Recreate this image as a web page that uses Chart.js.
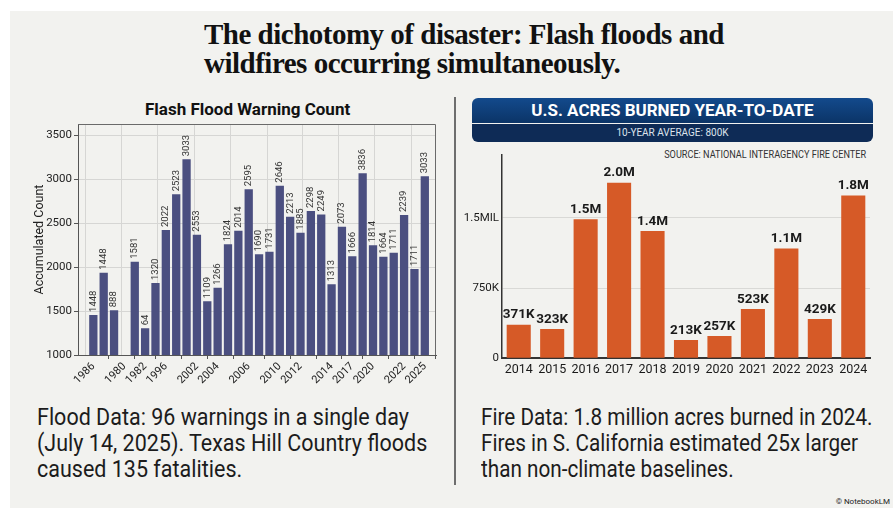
<!DOCTYPE html>
<html>
<head>
<meta charset="utf-8">
<script src="https://cdn.jsdelivr.net/npm/chart.js@4.4.1/dist/chart.umd.min.js"></script>
<style>
  html, body { margin:0; padding:0; background:#fff; }
  body { width:893px; height:508px; position:relative; overflow:hidden; }
  #panel { position:absolute; left:10px; top:11px; right:0; bottom:0; background:#f2f2ef; }
  .abs { position:absolute; }
  #title { left:204px; top:20px; font-family:"Liberation Serif", serif; font-weight:bold; font-size:29px; line-height:29px; color:#111; letter-spacing:-0.5px; white-space:nowrap; }
  #floodTitle { left:145px; width:201px; top:99px; font-family:Roboto, sans-serif; font-weight:bold; font-size:17px; line-height:20px; color:#111; text-align:center; white-space:nowrap; }
  #sep { left:454px; top:97px; width:2px; height:388px; background:#6e6e6e; }
  .note { font-family:Roboto, sans-serif; font-size:23px; line-height:26px; color:#1c1c1c; white-space:nowrap; transform-origin:0 0; }
  #floodNote { left:37px; top:405px; transform:scaleX(0.935); }
  #fireNote { left:481px; top:405px; transform:scaleX(0.9); }
  #ban1 { left:472px; top:98px; width:401px; height:25px; border-radius:6px 6px 0 0; background:linear-gradient(#134a8c, #0b3467); color:#fff; font-family:Roboto, sans-serif; font-weight:bold; font-size:17px; line-height:25px; text-align:center; }
  #ban2 { left:472px; top:124px; width:401px; height:18px; border-radius:0 0 6px 6px; background:#0e2b56; color:#dde3ec; font-family:Roboto, sans-serif; font-size:10px; line-height:18px; text-align:center; }
  #source { right:27px; top:148px; font-family:Roboto, sans-serif; font-size:10.5px; color:#333; white-space:nowrap; transform-origin:100% 0; transform:scaleX(0.87); }
  #copy { right:3px; top:497px; font-family:Roboto, sans-serif; font-size:8px; color:#222; }
  canvas { position:absolute; }
  #floodChart { left:30px; top:95px; }
  #fireChart { left:462px; top:145px; }
</style>
</head>
<body>
<div id="panel"></div>
<div id="title" class="abs">The dichotomy of disaster: Flash floods and<br>wildfires occurring simultaneously.</div>
<div id="floodTitle" class="abs">Flash Flood Warning Count</div>
<div id="sep" class="abs"></div>
<div id="floodNote" class="abs note">Flood Data: 96 warnings in a single day<br>(July 14, 2025). Texas Hill Country floods<br>caused 135 fatalities.</div>
<div id="fireNote" class="abs note">Fire Data: 1.8 million acres burned in 2024.<br>Fires in S. California estimated 25x larger<br>than non-climate baselines.</div>
<div id="ban1" class="abs">U.S. ACRES BURNED YEAR-TO-DATE</div>
<div id="ban2" class="abs">10-YEAR AVERAGE: 800K</div>
<div id="source" class="abs">SOURCE: NATIONAL INTERAGENCY FIRE CENTER</div>
<div id="copy" class="abs">&copy; NotebookLM</div>
<canvas id="floodChart" width="429" height="300"></canvas>
<canvas id="fireChart" width="431" height="240"></canvas>

<script>
// flash flood warnings, one slot per bar (slot 3 is empty in the picture)
var floodValues = [1455, 1935, 1508, null, 2060, 1303, 1818, 2420, 2826, 3224, 2367, 1610, 1765, 2258, 2413, 2883,
                   2144, 2174, 2924, 2572, 2390, 2636, 2598, 1803, 2458, 2121, 3064, 2246, 2117, 2163, 2591, 1977, 3030];
var floodBarText = ['1448','1448','888','','1581','64','1320','2022','2523','3033','2553','1109','1266','1824','2014','2595',
                    '1690','1731','2646','2213','1885','2298','2249','1313','2073','1666','3836','1814','1664','1711','2239','1711','3033'];
var floodTickSlots = [0, 3, 5, 7, 10, 12, 15, 18, 20, 23, 25, 27, 30, 32];
var floodTickYears = ['1986','1980','1982','1996','2002','2004','2006','2010','2012','2014','2017','2020','2022','2025'];
var floodYTicks = [1000, 1500, 2000, 2500, 3000, 3500];
var floodGridSlots = [-0.87, 3.06, 7.0, 11.0, 14.95, 18.9, 22.6, 26.6, 30.6];

// acres burned year-to-date
var fireYears = ['2014','2015','2016','2017','2018','2019','2020','2021','2022','2023','2024'];
var fireAcres = [358000, 313000, 1483000, 1873000, 1358000, 195000, 238000, 526000, 1173000, 419000, 1739000];
var fireBarText = ['371K','323K','1.5M','2.0M','1.4M','213K','257K','523K','1.1M','429K','1.8M'];
var fireTicks = [0, 750000, 1500000];
var fireTickText = ['0', '750K', '1.5MIL'];

Chart.defaults.font.family = 'Roboto, sans-serif';
Chart.defaults.color = '#222';
Chart.defaults.animation = false;

// text over each bar
var barText = {
    id: 'barText',
    afterDatasetsDraw: function(chart, args, opts) {
        var ctx = chart.ctx;
        var meta = chart.getDatasetMeta(0);
        ctx.save();
        ctx.font = opts.font;
        ctx.fillStyle = opts.color;
        meta.data.forEach(function(bar, i) {
            var t = opts.texts[i];
            if (!t || isNaN(bar.y)) return;
            if (opts.vertical) {
                ctx.save();
                ctx.translate(bar.x, bar.y - 3);
                ctx.rotate(-Math.PI / 2);
                ctx.textAlign = 'left';
                ctx.textBaseline = 'middle';
                ctx.fillText(t, 0, 0);
                ctx.restore();
            } else {
                ctx.textAlign = 'center';
                ctx.textBaseline = 'bottom';
                ctx.fillText(t, bar.x, bar.y - 3);
            }
        });
        ctx.restore();
    }
};

// top + right frame of the flood plot
var frame = {
    id: 'frame',
    beforeDatasetsDraw: function(chart, args, opts) {
        if (!opts.show) return;
        var a = chart.chartArea, ctx = chart.ctx;
        ctx.save();
        ctx.strokeStyle = '#6a6a6a';
        ctx.lineWidth = 1;
        ctx.beginPath();
        ctx.moveTo(a.left, a.top + 0.5);
        ctx.lineTo(a.right - 0.5, a.top + 0.5);
        ctx.lineTo(a.right - 0.5, a.bottom);
        ctx.stroke();
        ctx.restore();
    }
};

new Chart(document.getElementById('floodChart'), {
    type: 'bar',
    data: {
        datasets: [{
            data: floodValues.map(function(v, i) { return {x: i, y: v}; }),
            backgroundColor: '#4b4f80',
            barPercentage: 0.8,
            categoryPercentage: 1
        }]
    },
    options: {
        responsive: false,
        layout: { padding: { left: 2, right: 23, top: 29, bottom: 0 } },
        plugins: {
            legend: { display: false },
            tooltip: { enabled: false },
            barText: { texts: floodBarText, vertical: true, font: '9.5px Roboto, sans-serif', color: '#333' },
            frame: { show: true }
        },
        scales: {
            x: {
                type: 'linear', min: -1.48, max: 33.08, offset: false,
                afterBuildTicks: function(s) { s.ticks = floodTickSlots.map(function(v) { return {value: v}; }); },
                afterFit: function(s) { s.height = 40; },
                ticks: {
                    autoSkip: false, minRotation: 45, maxRotation: 45, padding: 1,
                    font: { size: 11 }, color: '#222',
                    callback: function(v) { var k = floodTickSlots.indexOf(v); return k < 0 ? '' : floodTickYears[k]; }
                },
                grid: { drawOnChartArea: false, tickLength: 4, color: '#555' },
                border: { color: '#555', width: 1 }
            },
            xg: {
                type: 'linear', position: 'top', min: -1.48, max: 33.08,
                afterBuildTicks: function(s) { s.ticks = floodGridSlots.map(function(v) { return {value: v}; }); },
                afterFit: function(s) { s.height = 0; },
                ticks: { display: false },
                grid: { color: '#d6d6d4', drawTicks: false },
                border: { display: false }
            },
            y: {
                min: 1000, max: 3625,
                afterBuildTicks: function(s) { s.ticks = floodYTicks.map(function(v) { return {value: v}; }); },
                afterFit: function(s) { s.width = 46; },
                ticks: { padding: 2, font: { size: 11.5 }, color: '#222',
                         callback: function(v) { return String(v); } },
                grid: { color: '#d6d6d4', tickLength: 4, tickColor: '#555' },
                border: { color: '#555', width: 1 },
                title: { display: true, text: 'Accumulated Count', font: { size: 12.5 }, color: '#222', padding: { top: 0, bottom: 0 } }
            }
        }
    },
    plugins: [barText, frame]
});

new Chart(document.getElementById('fireChart'), {
    type: 'bar',
    data: {
        labels: fireYears,
        datasets: [{
            data: fireAcres,
            backgroundColor: '#d65a27',
            barPercentage: 0.72,
            categoryPercentage: 1
        }]
    },
    options: {
        responsive: false,
        layout: { padding: { left: 0, right: 23, top: 10, bottom: 0 } },
        plugins: {
            legend: { display: false },
            tooltip: { enabled: false },
            barText: { texts: fireBarText, vertical: false, font: 'bold 13.5px Roboto, sans-serif', color: '#1a1a1a' }
        },
        scales: {
            x: {
                afterFit: function(s) { s.height = 26.7; },
                ticks: { padding: 4, minRotation: 0, maxRotation: 0, autoSkip: false,
                         font: { size: 12.5 }, color: '#1a1a1a' },
                grid: { display: false, drawTicks: false },
                border: { color: '#333', width: 2 }
            },
            y: {
                min: 0, max: 2170000,
                afterBuildTicks: function(s) { s.ticks = fireTicks.map(function(v) { return {value: v}; }); },
                afterFit: function(s) { s.width = 40; },
                ticks: { padding: 3, font: { size: 11.5 }, color: '#1a1a1a',
                         callback: function(v) { var k = fireTicks.indexOf(v); return k < 0 ? '' : fireTickText[k]; } },
                grid: { color: '#d9d9d6', drawTicks: false },
                border: { color: '#333', width: 1.5 }
            }
        }
    },
    plugins: [barText]
});
</script>
</body>
</html>
